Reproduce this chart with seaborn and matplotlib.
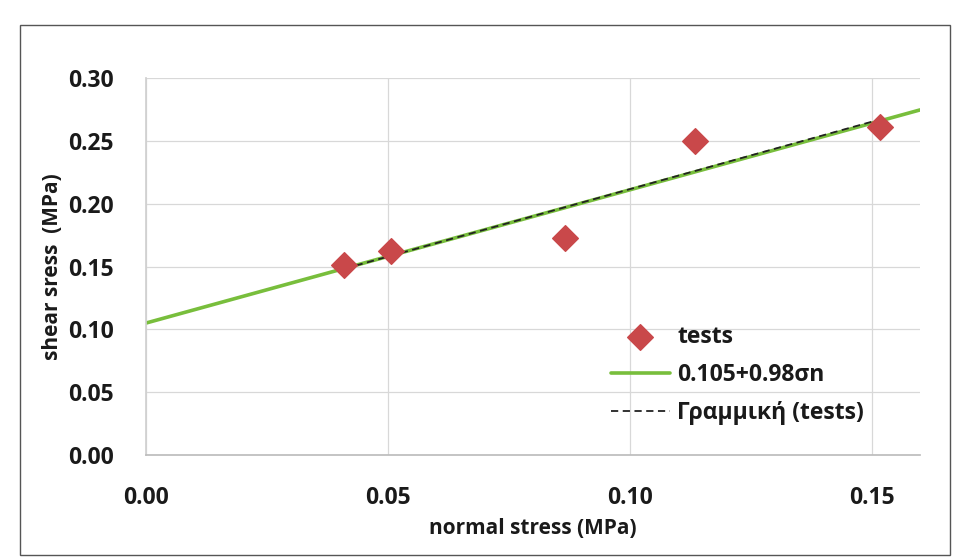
import numpy as np
import pandas as pd
import matplotlib
matplotlib.use("Agg")
import matplotlib.pyplot as plt
from matplotlib.patches import Rectangle
import seaborn as sns

# data
normal_stress = [0.041, 0.0506, 0.0867, 0.1135, 0.1517]
shear_stress = [0.151, 0.162, 0.173, 0.250, 0.261]
green_intercept = 0.105
green_slope = 1.06
x_ticks = [0.00, 0.05, 0.10, 0.15]
y_ticks = [0.00, 0.05, 0.10, 0.15, 0.20, 0.25, 0.30]
label_tests = "tests"
label_green = "0.105+0.98σn"
label_trend = "Γραμμική (tests)"

sns.set_theme(style="white")
plt.rcParams['font.family'] = ['Open Sans', 'DejaVu Sans']

fig = plt.figure(figsize=(9.56, 5.59), dpi=100)
W, H = 956, 559
left, right, top, bottom = 146, 920, 78, 455
ax = fig.add_axes([left / W, 1 - bottom / H, (right - left) / W, (bottom - top) / H])

df = pd.DataFrame({"x": normal_stress, "y": shear_stress})

xmax = 0.16
gx = np.array([0.0, xmax])
gdf = pd.DataFrame({"x": gx, "y": green_intercept + green_slope * gx})
sns.lineplot(data=gdf, x="x", y="y", ax=ax, color="#78be3c", lw=2.6,
             label=label_green, zorder=2)

coef = np.polyfit(normal_stress, shear_stress, 1)
tx = np.array([min(normal_stress), max(normal_stress)])
tdf = pd.DataFrame({"x": tx, "y": np.polyval(coef, tx)})
sns.lineplot(data=tdf, x="x", y="y", ax=ax, color="#222222", lw=1.3,
             linestyle=(0, (4, 2.5)), label=label_trend, zorder=3)

sns.scatterplot(data=df, x="x", y="y", ax=ax, marker="D", s=170,
                color="#c9484a", edgecolor="#c9484a", label=label_tests, zorder=4)

ax.set_xlim(0, xmax)
ax.set_ylim(0, 0.30)
ax.set_xticks(x_ticks)
ax.set_yticks(y_ticks)
ax.set_xticklabels([f"{v:.2f}" for v in x_ticks])
ax.set_yticklabels([f"{v:.2f}" for v in y_ticks])
ax.tick_params(axis="both", labelsize=16.5, length=0)
ax.tick_params(axis="x", pad=22)
ax.tick_params(axis="y", pad=23)
for lbl in ax.get_xticklabels() + ax.get_yticklabels():
    lbl.set_fontweight("bold")
    lbl.set_color("#1a1a1a")

ax.grid(True, color="#d8d8d8", lw=0.9)
for s in ["top", "right"]:
    ax.spines[s].set_visible(False)
ax.spines["left"].set_color("#d0d0d0")
ax.spines["bottom"].set_color("#bdbdbd")

ax.set_xlabel("normal stress (MPa)", fontsize=15, fontweight="bold",
              color="#1a1a1a", labelpad=6)
ax.set_ylabel("shear sress  (MPa)", fontsize=15, fontweight="bold",
              color="#1a1a1a", labelpad=4)

handles, labels = ax.get_legend_handles_labels()
order = [labels.index(label_tests), labels.index(label_green), labels.index(label_trend)]
leg = ax.legend([handles[i] for i in order], [labels[i] for i in order],
                loc="upper left", bbox_to_anchor=(590 / W, 1 - 304 / H),
                bbox_transform=fig.transFigure, frameon=False,
                prop={"size": 16.5, "weight": "bold"}, handlelength=2.6,
                labelspacing=0.62, handletextpad=0.3)
for t in leg.get_texts():
    t.set_color("#1a1a1a")

fig.patches.append(Rectangle((20 / W, 1 - 555 / H), 930 / W, 530 / H,
                             transform=fig.transFigure, fill=False,
                             edgecolor="#555555", lw=1.0))

fig.savefig("out.png", dpi=100)
